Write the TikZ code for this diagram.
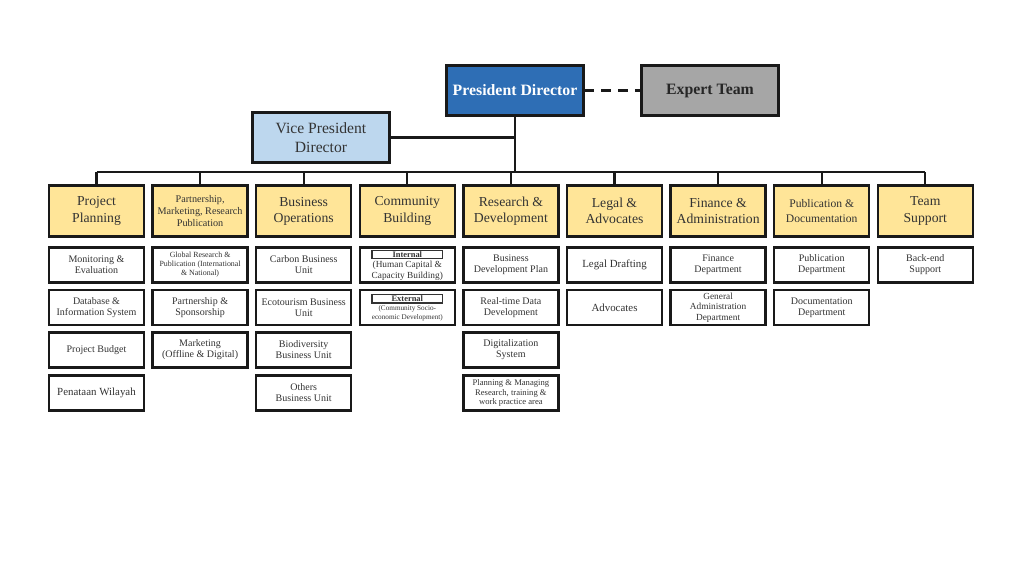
\documentclass[tikz,border=0pt]{standalone}
\usepackage{fontspec}
\setmainfont{Liberation Serif}
\usetikzlibrary{positioning}
\definecolor{presblue}{HTML}{2E6EB5}
\definecolor{viceblue}{HTML}{BDD7EE}
\definecolor{expertgray}{HTML}{A6A6A6}
\definecolor{unityellow}{HTML}{FFE598}
\newcommand{\tagbox}[1]{\setlength{\fboxsep}{0.3pt}\setlength{\fboxrule}{0.6pt}\fbox{\makebox[39pt]{\bfseries #1}}}

\begin{document}
\begin{tikzpicture}[x=0.02cm, y=-0.02cm,
    box/.style={draw=black!90, line width=1.4pt, align=center, inner sep=1pt, text=black!80},
    topbox/.style={box, minimum width=2.74cm, minimum height=1.0cm, font=\fontsize{8.9}{10.8}\selectfont},
    head/.style={box, fill=unityellow, minimum width=1.9cm, minimum height=1.02cm,
                 font=\fontsize{7.8}{9.2}\selectfont},
    sub/.style={box, fill=white, minimum width=1.9cm, minimum height=0.7cm,
                font=\fontsize{5.7}{6.3}\selectfont},
    link/.style={line width=1.3pt, black!90}
  ]
  \useasboundingbox (0,0) rectangle (1024,576);
  % --- Top management ---
  \node[topbox, fill=presblue, text=white, font=\fontsize{9}{10}\selectfont\bfseries] (pres) at (515,90.5) {President Director};
  \node[topbox, fill=expertgray, text=black!85, font=\fontsize{9}{10}\selectfont\bfseries] (expert) at (710,90.5) {Expert Team};
  \node[topbox, fill=viceblue] (vice) at (321,137.5) {Vice President\\Director};
  \draw[link, line width=1.5pt, dash pattern=on 5.5pt off 4pt] (pres.east) -- (expert.west);
  \coordinate (bus) at (515,172);
  \draw[link] (pres.south) -- (bus);
  \draw[link] (vice.east) -- (vice.east -| pres.south);

  % --- Units ---
  \node[head] (h1) at (96.5,211) {Project\\Planning};
  \node[head, font=\fontsize{5.8}{6.6}\selectfont] (h2) at (200.1,211) {Partnership,\\Marketing, Research\\Publication};
  \node[head] (h3) at (303.7,211) {Business\\Operations};
  \node[head] (h4) at (407.3,211) {Community\\Building};
  \node[head] (h5) at (510.9,211) {Research \&\\Development};
  \node[head] (h6) at (614.5,211) {Legal \&\\Advocates};
  \node[head] (h7) at (718.1,211) {Finance \&\\Administration};
  \node[head, font=\fontsize{6.6}{8}\selectfont] (h8) at (821.7,211) {Publication \&\\Documentation};
  \node[head] (h9) at (925.3,211) {Team\\Support};
  \draw[link] (h1.north |- bus) -- (h9.north |- bus);
  \foreach \i in {1,...,9}
    \draw[link] (h\i.north |- bus) -- (h\i.north);

  % --- Project Planning ---
  \node[sub] (pp1) at (96.5,265) {Monitoring \&\\Evaluation};
  \node[sub] (pp2) at (96.5,307.5) {Database \&\\Information System};
  \node[sub] (pp3) at (96.5,350) {Project Budget};
  \node[sub, font=\fontsize{6.2}{7}\selectfont] (pp4) at (96.5,393) {Penataan Wilayah};
  % --- Partnership ---
  \node[sub, font=\fontsize{4.5}{5.1}\selectfont] (pm1) at (200.1,265) {Global Research \&\\Publication (International\\\& National)};
  \node[sub] (pm2) at (200.1,307.5) {Partnership \&\\Sponsorship};
  \node[sub] (pm3) at (200.1,350) {Marketing\\(Offline \& Digital)};
  % --- Business Operations ---
  \node[sub] (bo1) at (303.7,265) {Carbon Business\\Unit};
  \node[sub] (bo2) at (303.7,307.5) {Ecotourism Business\\Unit};
  \node[sub] (bo3) at (303.7,350) {Biodiversity\\Business Unit};
  \node[sub] (bo4) at (303.7,393) {Others\\Business Unit};
  % --- Community Building ---
  \node[sub, font=\fontsize{5.3}{5.9}\selectfont] (cb1) at (407.3,265)
    {{\fontsize{4.8}{5}\selectfont\tagbox{Internal}}\\(Human Capital \&\\Capacity Building)};
  \node[sub, font=\fontsize{4.1}{4.9}\selectfont] (cb2) at (407.3,307.5)
    {{\fontsize{4.8}{5}\selectfont\tagbox{External}}\\(Community Socio-\\economic Development)};
  % --- Research & Development ---
  \node[sub] (rd1) at (510.9,265) {Business\\Development Plan};
  \node[sub] (rd2) at (510.9,307.5) {Real-time Data\\Development};
  \node[sub] (rd3) at (510.9,350) {Digitalization\\System};
  \node[sub, font=\fontsize{4.9}{5.6}\selectfont] (rd4) at (510.9,393) {Planning \& Managing\\Research, training \&\\work practice area};
  % --- Legal ---
  \node[sub, font=\fontsize{6.2}{7}\selectfont] (la1) at (614.5,265) {Legal Drafting};
  \node[sub, font=\fontsize{6.2}{7}\selectfont] (la2) at (614.5,307.5) {Advocates};
  % --- Finance ---
  \node[sub] (fa1) at (718.1,265) {Finance\\Department};
  \node[sub, font=\fontsize{5.3}{5.9}\selectfont] (fa2) at (718.1,307.5) {General\\Administration\\Department};
  % --- Publication ---
  \node[sub] (pd1) at (821.7,265) {Publication\\Department};
  \node[sub] (pd2) at (821.7,307.5) {Documentation\\Department};
  % --- Team Support ---
  \node[sub] (ts1) at (925.3,265) {Back-end\\Support};
\end{tikzpicture}
\end{document}
